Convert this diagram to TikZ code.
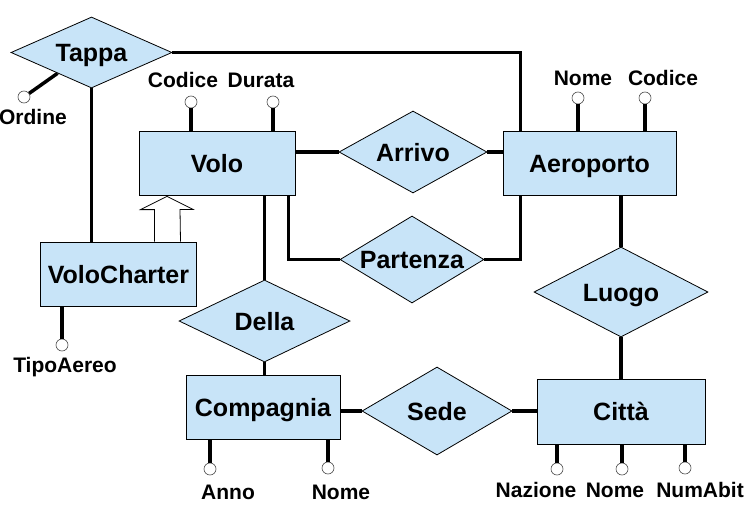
\documentclass[tikz,border=0pt]{standalone}
\usepackage{fontspec}
\setmainfont{Liberation Sans}
\usepackage{tikz}
\usetikzlibrary{shapes,calc,positioning}
\definecolor{erblue}{RGB}{200,228,248}

\begin{document}
\begin{tikzpicture}[x=1pt, y=-1pt,
      entity/.style={rectangle, draw, line width=0.8pt, fill=erblue, inner sep=0pt,
        text height=18pt, text depth=0pt, font=\bfseries\fontsize{25}{30}\selectfont},
      rel/.style={diamond, aspect=2, draw, line width=0.8pt, fill=erblue, inner sep=0pt,
        text height=18pt, text depth=0pt, font=\bfseries\fontsize{25}{30}\selectfont},
      attr/.style={circle, draw=black!70, line width=0.6pt, fill=white, inner sep=0pt, minimum size=12pt},
      attrname/.style={anchor=base, inner sep=0pt, font=\bfseries\fontsize{21}{25}\selectfont},
      conn/.style={line width=3.5pt},
      isa/.style={draw, fill=white, line width=0.8pt}]
    \useasboundingbox (0,0) rectangle (752,514);

    \node (TAPPA) [rel, minimum width=161pt, minimum height=71pt] at (91.5,52.5) {Tappa};
    \node (VOLO) [entity, minimum width=156pt, minimum height=64pt] at (217,163) {Volo};
    \node (ARRIVO) [rel, minimum width=148pt, minimum height=82pt] at (413,152) {Arrivo};
    \node (AEROPORTO) [entity, minimum width=173pt, minimum height=64pt] at (589.5,163) {Aeroporto};
    \node (PARTENZA) [rel, minimum width=144pt, minimum height=87pt] at (412,259.5) {Partenza};
    \node (VOLOCHARTER) [entity, minimum width=156pt, minimum height=64pt] at (118.5,274) {VoloCharter};
    \node (DELLA) [rel, minimum width=171pt, minimum height=82pt] at (264.5,321) {Della};
    \node (LUOGO) [rel, minimum width=174pt, minimum height=90pt] at (621,292) {Luogo};
    \node (COMPAGNIA) [entity, minimum width=154pt, minimum height=64pt] at (263,407) {Compagnia};
    \node (SEDE) [rel, minimum width=150pt, minimum height=88pt] at (437,411) {Sede};
    \node (CITTA) [entity, minimum width=168pt, minimum height=65pt] at (621,411.5) {Città};

    \draw [conn] (TAPPA.east) -| ([xshift=18pt]AEROPORTO.north west);
    \draw [conn] (TAPPA.south) -- (TAPPA.south |- VOLOCHARTER.north);
    \draw [conn] (ARRIVO.west) -- (ARRIVO.west -| VOLO.east);
    \draw [conn] (ARRIVO.east) -- (ARRIVO.east -| AEROPORTO.west);
    \draw [conn] ([xshift=-7pt]VOLO.south east) |- (PARTENZA.west);
    \draw [conn] (PARTENZA.east) -| ([xshift=18pt]AEROPORTO.south west);
    \draw [conn] (DELLA.north) -- (DELLA.north |- VOLO.south);
    \draw [conn] (DELLA.south) -- (DELLA.south |- COMPAGNIA.north);
    \draw [conn] (LUOGO.north) -- (LUOGO.north |- AEROPORTO.south);
    \draw [conn] (LUOGO.south) -- (LUOGO.south |- CITTA.north);
    \draw [conn] (SEDE.west) -- (SEDE.west -| COMPAGNIA.east);
    \draw [conn] (SEDE.east) -- (SEDE.east -| CITTA.west);

    \draw [isa] ([xshift=36pt]VOLOCHARTER.north) -- ++(0,-32) -- ++(-14,0)
      -- ([xshift=-50pt,yshift=-1pt]VOLO.south) -- ++(26,13) -- ++(-13,0)
      -- ([xshift=62pt]VOLOCHARTER.north);

    \node (ORDINE) [attr] at (24,97) {};
    \node (VCODICE) [attr] at (191,102) {};
    \node (DURATA) [attr] at (273,102) {};
    \node (ANOME) [attr] at (578,98) {};
    \node (ACODICE) [attr] at (645,98) {};
    \node (TIPOAEREO) [attr] at (62,345) {};
    \node (ANNO) [attr] at (210,469) {};
    \node (CNOME) [attr] at (328,468) {};
    \node (NAZIONE) [attr] at (557,469) {};
    \node (TNOME) [attr] at (622,469) {};
    \node (NUMABIT) [attr] at (685,468) {};

    \draw [conn] ($(TAPPA.west)!0.58!(TAPPA.south)$) -- (ORDINE);
    \draw [conn] (VCODICE) -- (VCODICE |- VOLO.north);
    \draw [conn] (DURATA) -- (DURATA |- VOLO.north);
    \draw [conn] (ANOME) -- (ANOME |- AEROPORTO.north);
    \draw [conn] (ACODICE) -- (ACODICE |- AEROPORTO.north);
    \draw [conn] (TIPOAEREO) -- (TIPOAEREO |- VOLOCHARTER.south);
    \draw [conn] (ANNO) -- (ANNO |- COMPAGNIA.south);
    \draw [conn] (CNOME) -- (CNOME |- COMPAGNIA.south);
    \draw [conn] (NAZIONE) -- (NAZIONE |- CITTA.south);
    \draw [conn] (TNOME) -- (TNOME |- CITTA.south);
    \draw [conn] (NUMABIT) -- (NUMABIT |- CITTA.south);

    \node (ORDINE-T) [attrname] at (33,124) {Ordine};
    \node (VCODICE-T) [attrname] at (183,87) {Codice};
    \node (DURATA-T) [attrname] at (261,87) {Durata};
    \node (ANOME-T) [attrname] at (583,85) {Nome};
    \node (ACODICE-T) [attrname] at (663,85) {Codice};
    \node (TIPOAEREO-T) [attrname] at (65,372) {TipoAereo};
    \node (ANNO-T) [attrname] at (228,499) {Anno};
    \node (CNOME-T) [attrname] at (341,499) {Nome};
    \node (NAZIONE-T) [attrname] at (536,497) {Nazione};
    \node (TNOME-T) [attrname] at (615,497) {Nome};
    \node (NUMABIT-T) [attrname] at (700,497) {NumAbit};
  \end{tikzpicture}
\end{document}
